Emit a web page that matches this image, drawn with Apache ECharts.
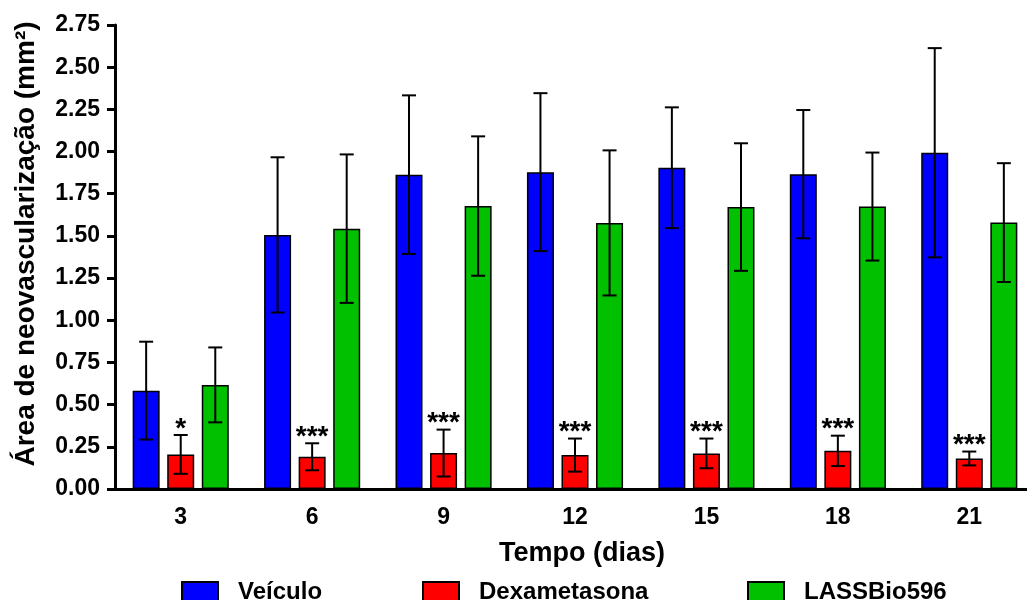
<!DOCTYPE html>
<html>
<head>
<meta charset="utf-8">
<script src="https://cdn.jsdelivr.net/npm/echarts@6/dist/echarts.min.js"></script>
<style>html,body{margin:0;padding:0;background:#fff}#c{width:1027px;height:600px}</style>
</head>
<body>
<div id="c"></div>
<script>
var categories = ['3', '6', '9', '12', '15', '18', '21'];
var veiculo = [0.583, 1.506, 1.863, 1.878, 1.904, 1.866, 1.993];
var veiculoErr = [0.29, 0.46, 0.47, 0.468, 0.358, 0.38, 0.62];
var dexa = [0.205, 0.191, 0.213, 0.201, 0.211, 0.226, 0.181];
var dexaErr = [0.115, 0.08, 0.139, 0.098, 0.088, 0.09, 0.041];
var lass = [0.617, 1.543, 1.677, 1.577, 1.671, 1.674, 1.579];
var lassErr = [0.222, 0.44, 0.413, 0.43, 0.378, 0.32, 0.352];
var dexaSig = ['*', '***', '***', '***', '***', '***', '***'];
var yTicks = [0, 0.25, 0.5, 0.75, 1, 1.25, 1.5, 1.75, 2, 2.25, 2.5, 2.75];

var FONT = '"Liberation Sans", Arial, sans-serif';
var BAR_W = 27, GAP = 0.28;
var STEP = BAR_W * (1 + GAP);

function errSeries(name, means, errs, offsetIndex, sig) {
  var data = means.map(function (m, i) { return [i, m, errs[i]]; });
  return {
    type: 'custom',
    name: name + ' err',
    z: 10,
    silent: true,
    data: data,
    renderItem: function (params, api) {
      var i = api.value(0), m = api.value(1), e = api.value(2);
      var c = api.coord([i, m]);
      var hi = api.coord([i, m + e]);
      var lo = api.coord([i, m - e]);
      var x = c[0] + offsetIndex * STEP;
      var cap = 7;
      var style = { stroke: '#000', lineWidth: 2 };
      var children = [
        { type: 'line', shape: { x1: x, y1: hi[1], x2: x, y2: lo[1] }, style: style },
        { type: 'line', shape: { x1: x - cap, y1: hi[1], x2: x + cap, y2: hi[1] }, style: style },
        { type: 'line', shape: { x1: x - cap, y1: lo[1], x2: x + cap, y2: lo[1] }, style: style }
      ];
      if (sig && sig[i]) {
        children.push({
          type: 'text',
          x: x, y: hi[1] + 8,
          style: { text: sig[i], fill: '#000', font: 'bold 28px ' + FONT, align: 'center', verticalAlign: 'bottom' }
        });
      }
      return { type: 'group', children: children };
    }
  };
}

function barSeries(name, vals, color) {
  return {
    type: 'bar', name: name, data: vals, barWidth: BAR_W, barGap: (GAP * 100) + '%',
    itemStyle: { color: color, borderColor: '#000', borderWidth: 1.5 }
  };
}

function legendAt(name, left) {
  return {
    data: [name], left: left, top: 580, padding: 0, itemWidth: 36, itemHeight: 20,
    icon: 'rect', selectedMode: false,
    textStyle: { fontFamily: FONT, fontWeight: 'bold', fontSize: 24, lineHeight: 20, color: '#000', padding: [0, 0, 4, 15] }
  };
}

var chart = echarts.init(document.getElementById('c'), null, { renderer: 'canvas' });
chart.setOption({
  animation: false,
  backgroundColor: '#fff',
  grid: { left: 115, top: 25, bottom: 111, right: -8, containLabel: false, outerBoundsMode: 'none' },
  legend: [legendAt('Veículo', 181), legendAt('Dexametasona', 422), legendAt('LASSBio596', 747)],
  xAxis: {
    type: 'category', data: categories,
    name: 'Tempo (dias)', nameLocation: 'middle', nameGap: 51,
    nameTextStyle: { fontFamily: FONT, fontWeight: 'bold', fontSize: 27, color: '#000', padding: [0, 0, 0, 14] },
    axisLine: { lineStyle: { color: '#000', width: 3 } },
    axisTick: { alignWithLabel: true, length: 7, lineStyle: { color: '#000', width: 3 } },
    axisLabel: { fontFamily: FONT, fontWeight: 'bold', fontSize: 23, color: '#000', margin: 17 }
  },
  yAxis: {
    type: 'value', min: 0, max: 2.75, interval: 0.25,
    name: 'Área de neovascularização (mm²)', nameLocation: 'middle', nameGap: 75,
    nameTextStyle: { fontFamily: FONT, fontWeight: 'bold', fontSize: 28, color: '#000', padding: [0, 0, 0, 26] },
    axisLine: { show: true, lineStyle: { color: '#000', width: 3 } },
    axisTick: { show: true, length: 8, lineStyle: { color: '#000', width: 3 } },
    splitLine: { show: false },
    axisLabel: {
      fontFamily: FONT, fontWeight: 'bold', fontSize: 23, color: '#000', margin: 15,
      formatter: function (v) { return v.toFixed(2); }
    }
  },
  series: [
    barSeries('Veículo', veiculo, '#0000FF'),
    barSeries('Dexametasona', dexa, '#FF0000'),
    barSeries('LASSBio596', lass, '#00C000'),
    errSeries('Veículo', veiculo, veiculoErr, -1, null),
    errSeries('Dexametasona', dexa, dexaErr, 0, dexaSig),
    errSeries('LASSBio596', lass, lassErr, 1, null)
  ]
});
</script>
</body>
</html>
